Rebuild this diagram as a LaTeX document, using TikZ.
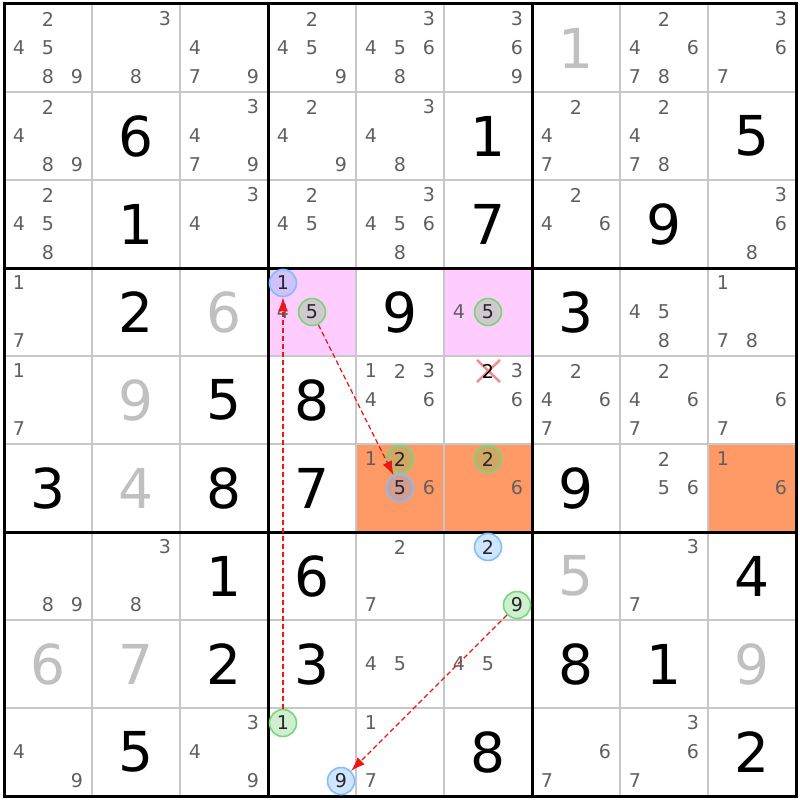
\documentclass[tikz,border=0pt]{standalone}
\usepackage{fontspec}
\setmainfont{DejaVu Sans}
\usetikzlibrary{arrows.meta}
\definecolor{candgray}{RGB}{96,96,96}
\definecolor{givengray}{RGB}{192,192,192}
\definecolor{gridgray}{RGB}{200,200,200}
\definecolor{hlpink}{RGB}{255,204,255}
\definecolor{hlorange}{RGB}{255,153,102}
\definecolor{ringgreen}{RGB}{120,215,120}
\definecolor{ringblue}{RGB}{130,190,250}
\definecolor{fillgreen}{RGB}{100,200,100}
\definecolor{fillblue}{RGB}{100,170,255}
\definecolor{crossred}{RGB}{240,140,140}
\definecolor{linkred}{RGB}{240,20,20}
\begin{document}
\begin{tikzpicture}[x=1pt,y=-1pt,
  candtxt/.style={text=candgray,font=\fontsize{19}{19}\selectfont,inner sep=0pt},
  bigtxt/.style={font=\fontsize{55}{55}\selectfont,inner sep=0pt},
  ring/.style={circle,line width=1.6pt,fill opacity=0.3,text opacity=1,minimum size=27pt,inner sep=0pt,text=black!85,font=\fontsize{19}{19}\selectfont},
  ringg/.style={ring,draw=ringgreen,fill=fillgreen},
  ringb/.style={ring,draw=ringblue,fill=fillblue},
  thin/.style={draw=gridgray,line width=1.5pt},
  thick/.style={draw=black,line width=3pt},
  pinkcell/.style={fill=hlpink},
  orangecell/.style={fill=hlorange},
  link/.style={draw=linkred,line width=1.3pt,dash pattern=on 5pt off 3pt,-{Latex[length=14pt,width=10pt]}},
  crossx/.style={draw=crossred,line width=2.5pt}
]
\useasboundingbox (0,0) rectangle (800,800);
\fill[white] (0,0) rectangle (800,800);
% highlights
\fill[pinkcell] (268,268) rectangle (356,356);
\fill[pinkcell] (444,268) rectangle (532,356);
\fill[orangecell] (356,444) rectangle (444,532);
\fill[orangecell] (444,444) rectangle (532,532);
\fill[orangecell] (708,444) rectangle (796,532);
% thin grid
\foreach \i in {1,2,4,5,7,8}{
  \draw[thin] ({4+\i*88},4) -- ({4+\i*88},796);
  \draw[thin] (4,{4+\i*88}) -- (796,{4+\i*88});
}
\foreach \i in {0,3,6,9}{
  \draw[thick] ({4+\i*88},2.5) -- ({4+\i*88},797.5);
  \draw[thick] (2.5,{4+\i*88}) -- (797.5,{4+\i*88});
}
% givens
\foreach \r/\c/\d/\col in {1/7/1/givengray,
  2/2/6/black,2/6/1/black,2/9/5/black,
  3/2/1/black,3/6/7/black,3/8/9/black,
  4/2/2/black,4/3/6/givengray,4/5/9/black,4/7/3/black,
  5/2/9/givengray,5/3/5/black,5/4/8/black,
  6/1/3/black,6/2/4/givengray,6/3/8/black,6/4/7/black,6/7/9/black,
  7/3/1/black,7/4/6/black,7/7/5/givengray,7/9/4/black,
  8/1/6/givengray,8/2/7/givengray,8/3/2/black,8/4/3/black,8/7/8/black,8/8/1/black,8/9/9/givengray,
  9/2/5/black,9/6/8/black,9/9/2/black}{
  \node[bigtxt,text=\col] (g\r\c) at ({4+(\c-1)*88+44},{4+(\r-1)*88+44}) {\d};
}
% candidates
\foreach \r/\c/\ds in {1/1/{2,4,5,8,9},1/2/{3,8},1/3/{4,7,9},1/4/{2,4,5,9},1/5/{3,4,5,6,8},1/6/{3,6,9},1/8/{2,4,6,7,8},1/9/{3,6,7},
  2/1/{2,4,8,9},2/3/{3,4,7,9},2/4/{2,4,9},2/5/{3,4,8},2/7/{2,4,7},2/8/{2,4,7,8},
  3/1/{2,4,5,8},3/3/{3,4},3/4/{2,4,5},3/5/{3,4,5,6,8},3/7/{2,4,6},3/9/{3,6,8},
  4/1/{1,7},4/4/{4},4/6/{4},4/8/{4,5,8},4/9/{1,7,8},
  5/1/{1,7},5/5/{1,2,3,4,6},5/6/{3,6},5/7/{2,4,6,7},5/8/{2,4,6,7},5/9/{6,7},
  6/5/{1,6},6/6/{6},6/8/{2,5,6},6/9/{1,6},
  7/1/{8,9},7/2/{3,8},7/5/{2,7},7/8/{3,7},
  8/5/{4,5},8/6/{4,5},
  9/1/{4,9},9/3/{3,4,9},9/5/{1,7},9/7/{6,7},9/8/{3,6,7}}{
  \foreach \d in \ds {
    \pgfmathsetmacro\cx{4+(\c-1)*88+15+mod(\d-1,3)*29}
    \pgfmathsetmacro\cy{4+(\r-1)*88+15+floor((\d-1)/3)*29}
    \node[candtxt] (k\r\c\d) at (\cx,\cy) {\d};
  }
}
% eliminated candidate
\draw[crossx] (477,360) -- (500,382);
\draw[crossx] (477,382) -- (500,360);
\node[candtxt,text=black] (x562) at (488,371) {2};
% circled candidates
\node[ringb] (b441) at (283,283) {1};
\node[ringg] (g445) at (312,312) {5};
\node[ringg] (g465) at (488,312) {5};
\node[ringg] (g652) at (400,459) {2};
\node[ringb] (b655) at (400,488) {5};
\node[ringg] (g662) at (488,459) {2};
\node[ringb] (b762) at (488,547) {2};
\node[ringg] (g769) at (517,605) {9};
\node[ringg] (g941) at (283,723) {1};
\node[ringb] (b949) at (341,781) {9};
% links
\draw[link] (g941) -- (b441);
\draw[link] (g445) -- (b655);
\draw[link] (g769) -- (b949);
\end{tikzpicture}
\end{document}
